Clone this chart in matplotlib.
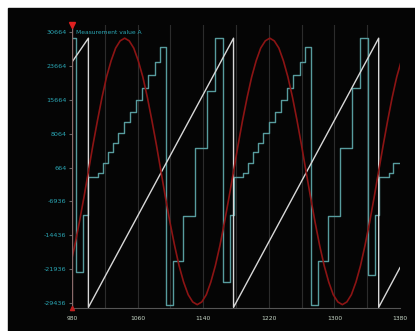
import matplotlib
matplotlib.use("Agg")
import matplotlib.pyplot as plt
from matplotlib.patches import Rectangle

# ejes
x_ticks = [980, 1060, 1140, 1220, 1300, 1380]
y_ticks = [30664, 23164, 15664, 8164, 664, -6836, -14336, -21836, -29336]
y_labels = ["30664", "23664", "15664", "8064", "664", "-6936", "-14436", "-21936", "-29436"]
grid_x = [1020, 1060, 1100, 1140, 1180, 1220, 1260, 1300, 1340]

# señal roja (seno)
red_t = [977.9, 983.4, 988.9, 994.5, 1000.0, 1005.5, 1011.1, 1016.6, 1022.1, 1027.7,
         1033.2, 1038.7, 1044.2, 1049.8, 1055.3, 1060.8, 1066.4, 1071.9, 1077.4, 1083.0,
         1088.5, 1094.0, 1099.5, 1105.1, 1110.6, 1116.1, 1121.7, 1127.2, 1132.7, 1138.3,
         1143.8, 1149.3, 1154.8, 1160.4, 1165.9, 1171.4, 1177.0, 1182.5, 1188.0, 1193.6,
         1199.1, 1204.6, 1210.1, 1215.7, 1221.2, 1226.7, 1232.3, 1237.8, 1243.3, 1248.9,
         1254.4, 1259.9, 1265.4, 1271.0, 1276.5, 1282.0, 1287.6, 1293.1, 1298.6, 1304.2,
         1309.7, 1315.2, 1320.7, 1326.3, 1331.8, 1337.3, 1342.9, 1348.4, 1353.9, 1359.5,
         1365.0, 1370.5, 1376.0, 1381.6]
red_val = [-21100, -16600, -11500, -6000, -200, 5600, 11100, 16200, 20700, 24300,
           27100, 28700, 29300, 28700, 27100, 24300, 20700, 16200, 11100, 5600,
           -200, -6000, -11500, -16600, -21100, -24700, -27500, -29100, -29700, -29100,
           -27500, -24700, -21100, -16600, -11500, -6000, -200, 5600, 11100, 16200,
           20700, 24300, 27100, 28700, 29300, 28700, 27100, 24300, 20700, 16200,
           11100, 5600, -200, -6000, -11500, -16600, -21100, -24700, -27500, -29100,
           -29700, -29100, -27500, -24700, -21100, -16600, -11500, -6000, -200, 5600,
           11100, 16200, 20700, 24300]

# señal blanca (rampa)
white_t = [980, 1000, 1000, 1177, 1177, 1354, 1354, 1380]
white_val = [24000, 29300, -30300, 29300, -30300, 29300, -30300, -21500]

# señal cian (escalones), valor constante desde cada instante
cyan_t = [980, 985, 993, 1000, 1012, 1018, 1024, 1030, 1036, 1043, 1051, 1058, 1065,
          1073, 1081, 1087, 1095, 1103, 1115, 1130, 1145, 1154, 1164, 1173,
          1177, 1189, 1195, 1201, 1207, 1213, 1220, 1228, 1235, 1242, 1250, 1258,
          1264, 1272, 1280, 1292, 1307, 1322, 1331, 1341, 1350,
          1354, 1366, 1372, 1380]
cyan_val = [29300, -22500, -9900, -1400, -550, 1700, 4100, 6100, 8300, 10700, 13000,
            15600, 18300, 21100, 24000, 27300, -29800, -20000, -10000, 5000, 17600,
            29300, -24700, -9900,
            -1400, -550, 1700, 4100, 6100, 8300, 10700, 13000, 15600, 18300, 21100,
            24000, 27300, -29800, -20000, -10000, 5000, 18300, 29300, -23100, -9900,
            -1400, -550, 1700, 1700]

fig = plt.figure(figsize=(4.15, 3.31), dpi=100)
fig.patch.set_facecolor("white")
fig.add_artist(Rectangle((8 / 415, 0), 1, 323 / 331, transform=fig.transFigure,
                         color="#050505", zorder=0))

ax = fig.add_axes([72 / 415, 23 / 331, 328 / 415, 283 / 331])
ax.set_facecolor("#050505")
ax.set_xlim(980, 1380)
ax.set_ylim(-30442, 32214)

for gx in grid_x:
    ax.axvline(gx, color="#2c2c2c", lw=0.8, zorder=1)

ax.plot(cyan_t, cyan_val, drawstyle="steps-post", color="#579c9e", lw=1.0, zorder=2)
ax.plot(white_t, white_val, color="#d8d8d8", lw=1.0, zorder=3)
ax.plot(red_t, red_val, color="#8c1414", lw=1.2, zorder=4)

# cursor
ax.axvline(980, color="#8a6a6a", lw=1.0, zorder=5)
ax.plot([980], [32214], marker="v", color="#e02020", ms=4, clip_on=False, zorder=6)
ax.plot([980], [-30442], marker="^", color="#c02020", ms=3, clip_on=False, zorder=6)

ax.set_xticks(x_ticks)
ax.set_xticklabels([str(t) for t in x_ticks], color="#c8d8c8", fontsize=4.3)
ax.set_yticks(y_ticks)
ax.set_yticklabels(y_labels, color="#2aa6b4", fontsize=4.6)
ax.tick_params(axis="x", length=0, pad=6)
ax.tick_params(axis="y", length=2, color="#666666", pad=2)
for s in ["top", "right", "left"]:
    ax.spines[s].set_visible(False)
ax.spines["bottom"].set_color("#555555")

fig.text(76 / 415, 1 - 32 / 331, "Measurement value A", color="#2aa6b4",
         fontsize=4.3, va="center", ha="left")

fig.savefig("out.png", dpi=100, facecolor=fig.get_facecolor())
